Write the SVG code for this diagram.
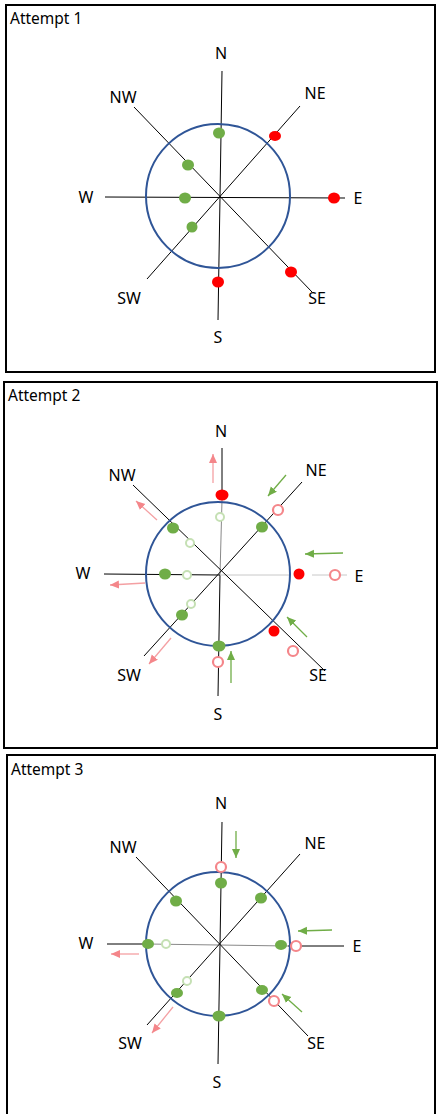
<svg xmlns="http://www.w3.org/2000/svg" width="442" height="1114" viewBox="0 0 442 1114">
<style>
.frame{fill:none;stroke:#000;stroke-width:2}
.title{font-family:"Noto Sans","Liberation Sans",sans-serif;font-size:15.5px;fill:#000}
.lbl{font-family:"Noto Sans","Liberation Sans",sans-serif;font-size:16px;fill:#000;text-anchor:middle;dominant-baseline:central}
.ax{stroke:#000;stroke-width:1;fill:none}
.axg{stroke:#888;stroke-width:1;fill:none}
.axl{stroke:#c8c8c8;stroke-width:1;fill:none}
.ring{fill:none;stroke:#2F5597;stroke-width:2}
.g{fill:#70AD47}
.r{fill:#FF0000}
.ho{fill:#fff;stroke:#F4868A;stroke-width:2.2}
.hg{fill:#fff;stroke:#C5E0B4;stroke-width:2}
.ag{stroke:#70AD47;stroke-width:1.3;fill:none;marker-end:url(#mg)}
.ap{stroke:#F4A0A3;stroke-width:1.3;fill:none;marker-end:url(#mp)}
</style>
<defs>
<marker id="mg" markerUnits="userSpaceOnUse" markerWidth="12" markerHeight="10" refX="9" refY="4" orient="auto"><path d="M0,0 L9,4 L0,8 Z" fill="#70AD47"/></marker>
<marker id="mp" markerUnits="userSpaceOnUse" markerWidth="12" markerHeight="10" refX="9" refY="4" orient="auto"><path d="M0,0 L9,4 L0,8 Z" fill="#F4868A"/></marker>
</defs>
<rect width="442" height="1114" fill="#fff"/>

<!-- Panel 1 -->
<g id="panel1">
<rect class="frame" x="6" y="5" width="429" height="367"/>
<text class="title" x="10" y="24">Attempt 1</text>
<g id="p1-axes">
<line class="ax" x1="222" y1="71" x2="220" y2="197"/>
<line class="ax" x1="220" y1="197" x2="218" y2="320"/>
<line class="ax" x1="105" y1="197" x2="345" y2="198"/>
<line class="ax" x1="134" y1="107" x2="312" y2="292"/>
<line class="ax" x1="300" y1="106" x2="147" y2="279"/>
</g>
<circle class="ring" cx="218" cy="196" r="72"/>
<g id="p1-labels">
<text class="lbl" x="221" y="53">N</text>
<text class="lbl" x="123" y="97">NW</text>
<text class="lbl" x="315" y="93">NE</text>
<text class="lbl" x="86" y="197">W</text>
<text class="lbl" x="358" y="198">E</text>
<text class="lbl" x="129" y="298">SW</text>
<text class="lbl" x="317" y="298">SE</text>
<text class="lbl" x="218" y="337">S</text>
</g>
<g id="p1-dots">
<ellipse class="g" cx="219" cy="133" rx="6" ry="5.5"/>
<ellipse class="g" cx="188" cy="165" rx="6" ry="5.5"/>
<ellipse class="g" cx="185" cy="198" rx="6" ry="5.5"/>
<ellipse class="g" cx="192" cy="227" rx="5.5" ry="5.5"/>
<ellipse class="r" cx="275" cy="136" rx="6" ry="5"/>
<ellipse class="r" cx="334" cy="198" rx="6" ry="5.5"/>
<ellipse class="r" cx="291" cy="272" rx="6" ry="5.5"/>
<ellipse class="r" cx="218" cy="282" rx="6" ry="5.5"/>
</g>
</g>

<!-- Panel 2 -->
<g id="panel2">
<rect class="frame" x="4" y="382" width="433" height="366"/>
<text class="title" x="8" y="401">Attempt 2</text>
<g id="p2-axes">
<line class="ax" x1="222" y1="448" x2="222" y2="500"/>
<line class="axg" x1="222" y1="500" x2="220" y2="575"/>
<line class="ax" x1="220" y1="575" x2="218" y2="696"/>
<line class="ax" x1="104" y1="574" x2="220" y2="575"/>
<line class="axl" x1="220" y1="575" x2="290" y2="575"/>
<line class="axl" x1="312" y1="575" x2="347" y2="575"/>
<line class="ax" x1="133" y1="485" x2="325" y2="671"/>
<line class="ax" x1="302" y1="482" x2="144" y2="656"/>
</g>
<circle class="ring" cx="218" cy="574" r="72"/>
<g id="p2-labels">
<text class="lbl" x="221" y="431">N</text>
<text class="lbl" x="122" y="475">NW</text>
<text class="lbl" x="316" y="470">NE</text>
<text class="lbl" x="83" y="573">W</text>
<text class="lbl" x="359" y="576">E</text>
<text class="lbl" x="129" y="675">SW</text>
<text class="lbl" x="318" y="675">SE</text>
<text class="lbl" x="218" y="714">S</text>
</g>
<g id="p2-dots">
<ellipse class="r" cx="222" cy="495" rx="6.5" ry="5.5"/>
<circle class="hg" cx="220" cy="517" r="4"/>
<circle class="ho" cx="278" cy="510" r="5"/>
<ellipse class="g" cx="262" cy="527" rx="6" ry="5.5"/>
<ellipse class="g" cx="173" cy="528" rx="6" ry="5.5"/>
<circle class="hg" cx="190" cy="543" r="4"/>
<ellipse class="g" cx="165" cy="574" rx="6" ry="5.5"/>
<circle class="hg" cx="187" cy="575" r="4"/>
<ellipse class="r" cx="299" cy="574" rx="5.5" ry="5.5"/>
<circle class="ho" cx="335" cy="575" r="5"/>
<circle class="hg" cx="191" cy="604" r="4"/>
<ellipse class="g" cx="182" cy="615" rx="6" ry="5.5"/>
<ellipse class="g" cx="219" cy="646" rx="6.5" ry="5.5"/>
<circle class="ho" cx="218" cy="662" r="5"/>
<ellipse class="r" cx="274" cy="631" rx="5.5" ry="5.5"/>
<circle class="ho" cx="293" cy="651" r="5"/>
</g>
<g id="p2-arrows">
<line class="ap" x1="213" y1="483" x2="213" y2="454"/>
<line class="ag" x1="286" y1="475" x2="268" y2="496"/>
<line class="ap" x1="157" y1="520" x2="136" y2="501"/>
<line class="ag" x1="343" y1="553" x2="305" y2="554"/>
<line class="ap" x1="145" y1="583" x2="110" y2="585"/>
<line class="ap" x1="171" y1="638" x2="149" y2="664"/>
<line class="ag" x1="231" y1="683" x2="231" y2="651"/>
<line class="ag" x1="307" y1="637" x2="287" y2="617"/>
</g>
</g>

<!-- Panel 3 -->
<g id="panel3">
<path class="frame" d="M7,1114 V755 H435 V1114"/>
<text class="title" x="11" y="775">Attempt 3</text>
<g id="p3-axes">
<line class="ax" x1="222" y1="822" x2="220" y2="945"/>
<line class="ax" x1="220" y1="945" x2="218" y2="1064"/>
<line class="ax" x1="107" y1="944" x2="148" y2="944"/>
<line class="axg" x1="148" y1="944" x2="288" y2="946"/>
<line class="ax" x1="288" y1="946" x2="344" y2="946"/>
<line class="ax" x1="136" y1="857" x2="308" y2="1036"/>
<line class="ax" x1="300" y1="854" x2="147" y2="1025"/>
</g>
<circle class="ring" cx="218" cy="944" r="72"/>
<g id="p3-labels">
<text class="lbl" x="221" y="803">N</text>
<text class="lbl" x="123" y="847">NW</text>
<text class="lbl" x="315" y="843">NE</text>
<text class="lbl" x="86" y="943">W</text>
<text class="lbl" x="357" y="946">E</text>
<text class="lbl" x="130" y="1043">SW</text>
<text class="lbl" x="316" y="1043">SE</text>
<text class="lbl" x="217" y="1082">S</text>
</g>
<g id="p3-dots">
<circle class="ho" cx="221" cy="867" r="5"/>
<ellipse class="g" cx="221" cy="883" rx="6" ry="5.5"/>
<ellipse class="g" cx="261" cy="898" rx="6" ry="5.5"/>
<ellipse class="g" cx="176" cy="901" rx="6" ry="5.5"/>
<ellipse class="g" cx="148" cy="944" rx="6" ry="5"/>
<circle class="hg" cx="166" cy="944" r="4"/>
<ellipse class="g" cx="281" cy="945" rx="6" ry="5"/>
<circle class="ho" cx="296" cy="946" r="5"/>
<circle class="hg" cx="187" cy="981" r="4"/>
<ellipse class="g" cx="177" cy="993" rx="6" ry="5"/>
<ellipse class="g" cx="219" cy="1016" rx="6.5" ry="5.5"/>
<ellipse class="g" cx="262" cy="990" rx="6" ry="5"/>
<circle class="ho" cx="274" cy="1001" r="5"/>
</g>
<g id="p3-arrows">
<line class="ag" x1="236" y1="831" x2="236" y2="858"/>
<line class="ag" x1="332" y1="930" x2="298" y2="931"/>
<line class="ap" x1="139" y1="954" x2="111" y2="954"/>
<line class="ag" x1="302" y1="1012" x2="282" y2="994"/>
<line class="ap" x1="173" y1="1007" x2="152" y2="1033"/>
</g>
</g>
</svg>
